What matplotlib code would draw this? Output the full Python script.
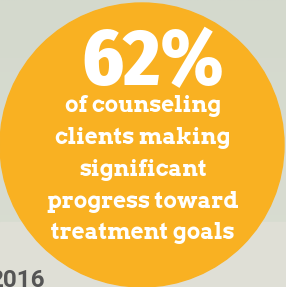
import numpy as np
import matplotlib
matplotlib.use("Agg")
import matplotlib.pyplot as plt
from matplotlib.patches import Circle, Rectangle

# Data
value = 62
value_label = f"{value}%"
caption_lines = [
    "of counseling",
    "clients making",
    "significant",
    "progress toward",
    "treatment goals",
]
year_label = "2016"

# Style
BG_TOP = "#d4d9cd"
BG_MID = "#d9ddd2"
BG_BOTTOM = "#dfdfd6"
CIRCLE = "#f9b122"
W, H = 286, 287
BIG_FONT = ["Fira Sans Condensed", "Roboto Condensed", "DejaVu Sans"]
CAPTION_FONT = ["Arvo", "DejaVu Serif"]
YEAR_FONT = ["Roboto", "DejaVu Sans"]

fig = plt.figure(figsize=(W / 100, H / 100), dpi=100)
ax = fig.add_axes([0, 0, 1, 1])
ax.set_xlim(0, W)
ax.set_ylim(H, 0)
ax.axis("off")

# background: soft vertical gradient, lighter band at the bottom
grad = np.linspace(0, 1, 256).reshape(-1, 1)
cmap = matplotlib.colors.LinearSegmentedColormap.from_list("bg", [BG_TOP, BG_MID])
ax.imshow(grad, extent=[0, W, H, 0], cmap=cmap, aspect="auto", zorder=0)
ax.add_patch(Rectangle((0, 222), W, H - 222, color=BG_BOTTOM, zorder=1))

ax.add_patch(Circle((142, 145), 142, color=CIRCLE, zorder=2))

ax.text(153, 85, value_label, ha="center", va="baseline", color="white",
        fontsize=57, fontweight=800, family=BIG_FONT, zorder=3)

baselines = [112, 144, 176, 208, 239]
for line, y in zip(caption_lines, baselines):
    ax.text(143, y, line, ha="center", va="baseline", color="white",
            fontsize=16, fontweight="bold", family=CAPTION_FONT, zorder=3)

ax.text(45, 287, year_label, ha="right", va="baseline", color="#555555",
        fontsize=17.5, fontweight="bold", family=YEAR_FONT, zorder=1.5)

fig.savefig("out.png", dpi=100)
